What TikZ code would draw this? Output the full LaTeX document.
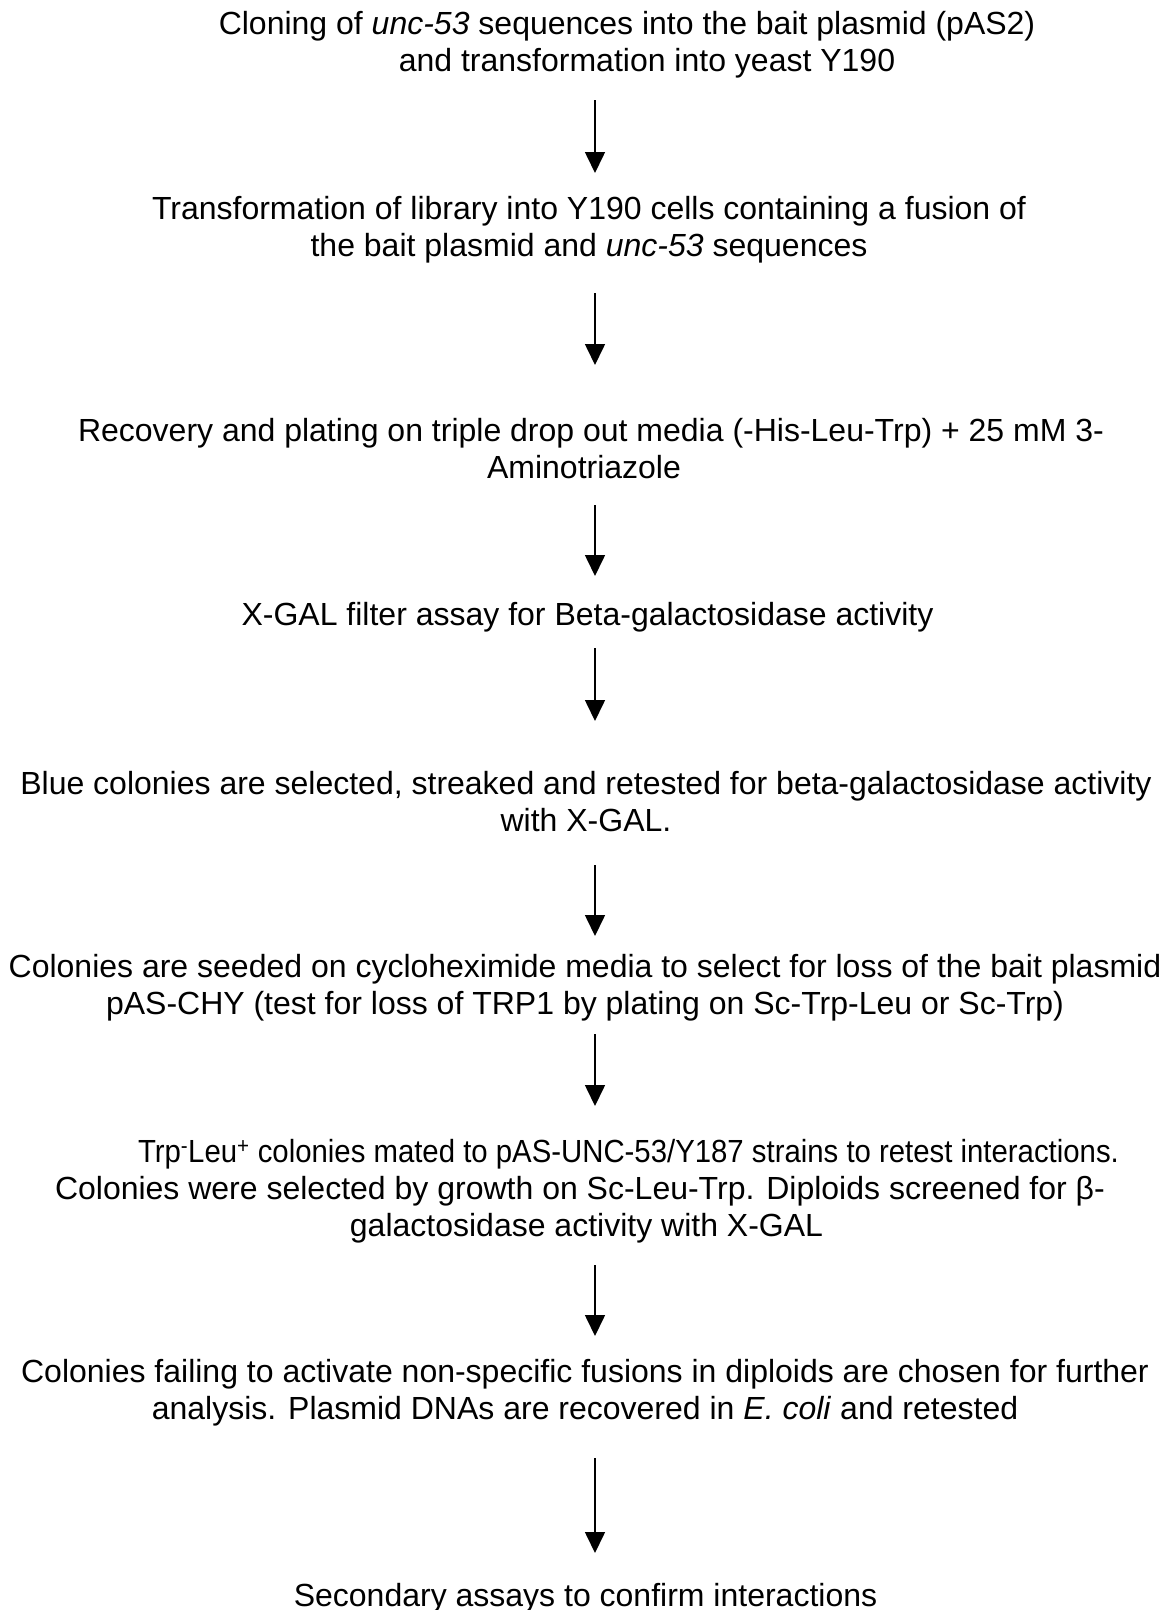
\documentclass[tikz,border=0pt]{standalone}
\usepackage{fontspec}
\setmainfont{Liberation Sans}
\usetikzlibrary{arrows.meta}
\tikzset{
  stepnode/.style={inner sep=0pt, align=center, font=\fontsize{32}{37}\selectfont},
  arr/.style={line width=1.6pt, -{Triangle[width=20pt,length=21pt]}},
}
\begin{document}
\begin{tikzpicture}[x=1pt,y=-1pt]
\useasboundingbox (0,0) rectangle (1171,1610);
\coordinate (col) at (595,0);
\node[stepnode] (s1) at (627,45) {Cloning of \textit{unc-53} sequences into the bait plasmid (pAS2)\\\hspace*{40pt}and transformation into yeast Y190};
\node[stepnode] (s2) at (589,230) {Transformation of library into Y190 cells containing a fusion of\\the bait plasmid and \textit{unc-53} sequences};
\node[stepnode] (s3) at (591,449) {Recovery and plating on triple drop out media (-His-Leu-Trp) + 25 mM 3-\\\hspace*{-14pt}Aminotriazole};
\node[stepnode] (s4) at (587.5,617.5) {X-GAL filter assay for Beta-galactosidase activity};
\node[stepnode] (s5) at (586,801.5) {Blue colonies are selected, streaked and retested for beta-galactosidase activity\\with X-GAL.};
\node[stepnode] (s6) at (585,987.5) {Colonies are seeded on cycloheximide media to select for loss of the bait plasmid\\pAS-CHY (test for loss of TRP1 by plating on Sc-Trp-Leu or Sc-Trp)};
\node[stepnode] (s7) at (580,1191.5) {\makebox[0pt]{\hspace*{97pt}\scalebox{0.917}[1]{Trp\textsuperscript{-}Leu\textsuperscript{+} colonies mated to pAS-UNC-53/Y187 strains to retest interactions.}}\\Colonies were selected by growth on Sc-Leu-Trp. Diploids screened for β-\\\hspace*{13pt}galactosidase activity with X-GAL};
\node[stepnode] (s8) at (585,1393) {Colonies failing to activate non-specific fusions in diploids are chosen for further\\analysis. Plasmid DNAs are recovered in \textit{E. coli} and retested};
\node[stepnode] (s9) at (585.5,1598) {Secondary assays to confirm interactions};
\draw[arr] ([yshift=-55pt]s1.center -| col) -- ([yshift=57pt]s2.center -| col);
\draw[arr] ([yshift=-63pt]s2.center -| col) -- ([yshift=84pt]s3.center -| col);
\draw[arr] ([yshift=-56pt]s3.center -| col) -- ([yshift=41.5pt]s4.center -| col);
\draw[arr] ([yshift=-30.5pt]s4.center -| col) -- ([yshift=80.5pt]s5.center -| col);
\draw[arr] ([yshift=-63.5pt]s5.center -| col) -- ([yshift=51.5pt]s6.center -| col);
\draw[arr] ([yshift=-46.5pt]s6.center -| col) -- ([yshift=85.5pt]s7.center -| col);
\draw[arr] ([yshift=-73.5pt]s7.center -| col) -- ([yshift=57pt]s8.center -| col);
\draw[arr] ([yshift=-65pt]s8.center -| col) -- ([yshift=45pt]s9.center -| col);
\end{tikzpicture}
\end{document}
